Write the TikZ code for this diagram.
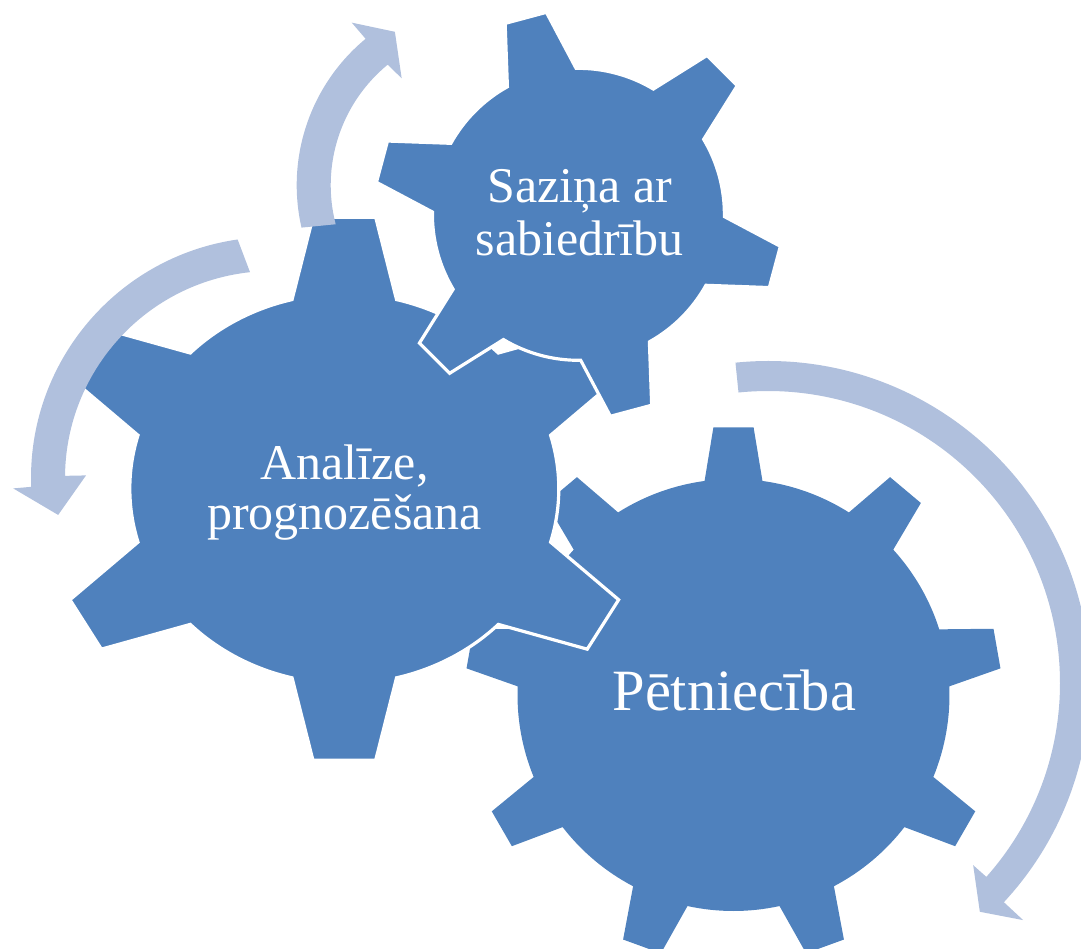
\documentclass[tikz,border=0pt]{standalone}
\usepackage{fontspec}
\setmainfont{Liberation Serif}
\definecolor{gearblue}{RGB}{79,129,189}
\definecolor{arrowblue}{RGB}{176,192,221}
\tikzset{
  gearbody/.style={fill=gearblue},
  gearedge/.style={fill=gearblue, draw=white, line width=3.2pt, line join=miter},
  arrowband/.style={fill=arrowblue},
  gearlabel/.style={text=white, inner sep=0pt, anchor=base},
  smalllabel/.style={gearlabel, font=\fontsize{50}{51}\selectfont},
  biglabel/.style={gearlabel, font=\fontsize{58.5}{60}\selectfont},
}
\begin{document}
\begin{tikzpicture}[x=1pt,y=1pt]
\useasboundingbox (0,0) rectangle (1081,-948);
\clip (0,0) rectangle (1081,-948);

% gear 1 (nine teeth)
\begin{scope}[shift={(733.5,-695)}]
\path[gearbody] (82.3:216)
  \foreach \k in {0,...,8}{
    -- ({90+40*\k-4.3}:268.3) -- ({90+40*\k+4.3}:268.3) -- ({90+40*\k+7.7}:216)
    arc[start angle={90+40*\k+7.7}, end angle={90+40*\k+32.3}, radius=216]
  } -- cycle;
\end{scope}

% gear 2 (six teeth, slightly wide)
\begin{scope}[shift={(344.3,-488.7)}, xscale=1.1]
\path[gearedge] (75.9:195)
  \foreach \k in {0,...,5}{
    -- ({90+60*\k-6}:273) -- ({90+60*\k+6}:273) -- ({90+60*\k+14.1}:195)
    arc[start angle={90+60*\k+14.1}, end angle={90+60*\k+45.9}, radius=195]
  } -- cycle;
\end{scope}

% gear 3 (six teeth, rotated)
\begin{scope}[shift={(578.4,-214.3)}, rotate=15]
\path[gearedge] (75.9:146)
  \foreach \k in {0,...,5}{
    -- ({90+60*\k-6}:204.5) -- ({90+60*\k+6}:204.5) -- ({90+60*\k+14.1}:146)
    arc[start angle={90+60*\k+14.1}, end angle={90+60*\k+45.9}, radius=146]
  } -- cycle;
\end{scope}

% arrow around gear 1
\begin{scope}[shift={(768,-683)}]
\path[arrowband] (95.8:322) arc[start angle=95.8, end angle=-42.9, radius=322]
  -- (-42.9:348.3) -- (-47.2:311.8) -- (-41.6:274.4) -- (-41.6:292)
  arc[start angle=-41.6, end angle=95.8, radius=292] -- cycle;
\end{scope}

% arrow around gear 2
\begin{scope}[shift={(272,-478)}]
\path[arrowband] (98.2:241) arc[start angle=98.2, end angle=182.1, radius=241]
  -- (182.3:259) -- (189.8:217) -- (179.2:186) -- (179.4:207)
  arc[start angle=179.4, end angle=96.1, radius=207] -- cycle;
\end{scope}

% arrow around gear 3
\begin{scope}[shift={(486.7,-185.2)}]
\path[arrowband] (192.9:190) arc[start angle=192.9, end angle=129.6, radius=190]
  -- (129.7:211.3) -- (120.9:178.8) -- (128.5:136.6) -- (129.4:156)
  arc[start angle=129.4, end angle=194.5, radius=156] -- cycle;
\end{scope}

% labels
\node[biglabel] (petn) at (734.3,-710.7) {Pētniecība};
\node[smalllabel] (anal1) at (344.5,-479.3) {Analīze,};
\node[smalllabel] (anal2) at (344.5,-529.2) {prognozēšana};
\node[smalllabel] (saz1) at (580,-202.3) {Saziņa ar};
\node[smalllabel] (saz2) at (579.7,-255) {sabiedrību};
\end{tikzpicture}
\end{document}
